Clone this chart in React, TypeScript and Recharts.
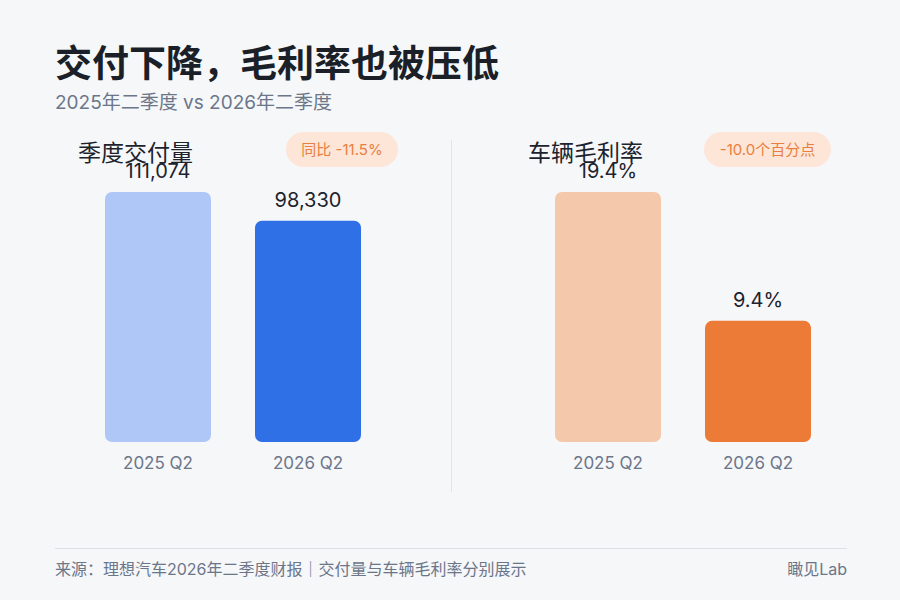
import { Bar, BarChart, Cell, LabelList, XAxis, YAxis } from "recharts";

const quarters = ["2025 Q2", "2026 Q2"];
const deliveries = [111074, 98330];
const grossMargin = [19.4, 9.4];
const deliveryColors = ["#aec7f7", "#2f70e6"];
const marginColors = ["#f4c8aa", "#ec7b37"];

const cjk = "'Noto Sans CJK SC', 'Noto Sans', sans-serif";
const mixed = "Inter, 'Noto Sans CJK SC', sans-serif";

type PanelProps = {
  left: number;
  title: string;
  badge: string;
  badgeLeft: number;
  badgeWidth: number;
  values: number[];
  colors: string[];
  format: (v: number) => string;
};

function Panel({ left, title, badge, badgeLeft, badgeWidth, values, colors, format }: PanelProps) {
  const data = quarters.map((q, i) => ({ quarter: q, value: values[i] }));
  return (
    <>
      <div
        style={{
          position: "absolute",
          left: left - 5,
          top: 137,
          fontFamily: cjk,
          fontSize: 23,
          color: "#1d232d",
          lineHeight: "28px",
          zIndex: 2,
        }}
      >
        {title}
      </div>
      <div
        style={{
          position: "absolute",
          left: badgeLeft,
          top: 132,
          width: badgeWidth,
          height: 35,
          borderRadius: 18,
          background: "#fde5d8",
          color: "#e97f3e",
          fontFamily: mixed,
          fontSize: 15,
          lineHeight: "35px",
          textAlign: "center",
        }}
      >
        {badge}
      </div>
      <div style={{ position: "absolute", left, top: 140 }}>
        <BarChart
          width={300}
          height={350}
          data={data}
          margin={{ top: 52, right: 0, bottom: 10, left: 0 }}
        >
          <XAxis
            dataKey="quarter"
            axisLine={false}
            tickLine={false}
            tickSize={0}
            tickMargin={15}
            height={38}
            tick={{ fill: "#6b7689", fontSize: 17, fontFamily: mixed }}
          />
          <YAxis hide domain={[0, Math.max(...values)]} allowDataOverflow />
          <Bar dataKey="value" barSize={106} radius={7} isAnimationActive={false}>
            {data.map((d, i) => (
              <Cell key={d.quarter} fill={colors[i]} />
            ))}
            <LabelList
              dataKey="value"
              position="top"
              offset={14}
              formatter={(v: any) => format(Number(v))}
              style={{ fill: "#1d232d", fontSize: 20, fontFamily: mixed }}
            />
          </Bar>
        </BarChart>
      </div>
    </>
  );
}

export default function App() {
  return (
    <div
      style={{
        position: "absolute",
        left: 0,
        top: 0,
        width: 900,
        height: 600,
        background: "#f6f7f9",
        overflow: "hidden",
      }}
    >
      <div
        style={{
          position: "absolute",
          left: 55,
          top: 37,
          fontFamily: cjk,
          fontWeight: 700,
          fontSize: 37,
          color: "#1a1f28",
          lineHeight: "48px",
        }}
      >
        交付下降，毛利率也被压低
      </div>
      <div
        style={{
          position: "absolute",
          left: 55,
          top: 90,
          fontFamily: mixed,
          fontSize: 19,
          color: "#6b7689",
          lineHeight: "26px",
        }}
      >
        2025年二季度 vs 2026年二季度
      </div>

      <Panel
        left={83}
        title="季度交付量"
        badge="同比 -11.5%"
        badgeLeft={286}
        badgeWidth={112}
        values={deliveries}
        colors={deliveryColors}
        format={(v) => v.toLocaleString("en-US")}
      />
      <div
        style={{
          position: "absolute",
          left: 451,
          top: 140,
          width: 1,
          height: 352,
          background: "#e2e5ea",
        }}
      />
      <Panel
        left={533}
        title="车辆毛利率"
        badge="-10.0个百分点"
        badgeLeft={704}
        badgeWidth={127}
        values={grossMargin}
        colors={marginColors}
        format={(v) => `${v.toFixed(1)}%`}
      />

      <div
        style={{
          position: "absolute",
          left: 55,
          top: 548,
          width: 792,
          height: 1,
          background: "#dde1e7",
        }}
      />
      <div
        style={{
          position: "absolute",
          left: 55,
          top: 558,
          fontFamily: mixed,
          fontSize: 16,
          color: "#6b7689",
          lineHeight: "22px",
        }}
      >
        来源：理想汽车2026年二季度财报｜交付量与车辆毛利率分别展示
      </div>
      <div
        style={{
          position: "absolute",
          right: 53,
          top: 558,
          fontFamily: mixed,
          fontSize: 16,
          color: "#6b7689",
          lineHeight: "22px",
        }}
      >
        瞰见Lab
      </div>
    </div>
  );
}
